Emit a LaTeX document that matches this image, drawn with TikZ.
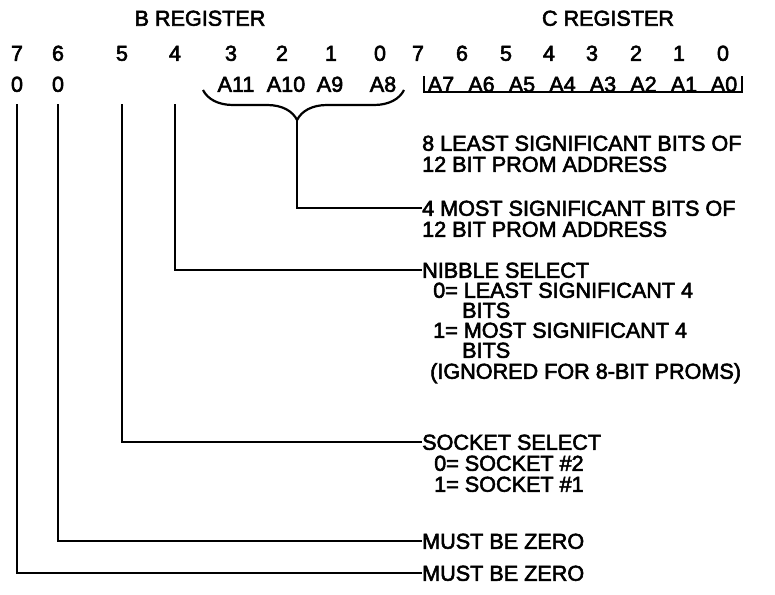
\documentclass[tikz,border=0pt]{standalone}
\usepackage{fontspec}
\setmainfont{Liberation Sans}[FakeBold=2.6]
\usetikzlibrary{decorations.pathreplacing}
\begin{document}
\begin{tikzpicture}[x=1pt,y=-1pt,
  txt/.style={inner sep=0pt, font=\fontsize{21.6}{24}\selectfont, text height=15.5pt, text depth=0pt},
  lbl/.style={txt, anchor=west},
  wire/.style={line width=1.8pt},
]
\useasboundingbox (0,0) rectangle (775,594);
% titles
\node[txt] (breg) at (200,18) {B REGISTER};
\node[txt] (creg) at (608,18) {C REGISTER};
% bit numbers
\foreach \n/\x/\t in {b7/17/7,b6/58/6,b5/122/5,b4/175/4,b3/231/3,b2/282/2,b1/331/1,b0/380/0,
  c7/418/7,c6/462/6,c5/506/5,c4/549/4,c3/592/3,c2/636/2,c1/679/1,c0/723/0}
  \node[txt] (\n) at (\x,53) {\t};
% values
\foreach \n/\x/\t in {v7/17/0,v6/58/0,a11/236/A11,a10/286/A10,a9/330/A9,a8/383/A8,
  a7/441/A7,a6/481.5/A6,a5/522/A5,a4/562.5/A4,a3/603/A3,a2/643.5/A2,a1/684/A1,a0/724/A0}
  \node[txt] (\n) at (\x,84) {\t};
% C register bracket
\coordinate (cl) at (424,76);
\coordinate (cr) at (742,76);
\draw[line width=1.3pt] (cl) -- (424,92) -- (742,92) -- (cr);
% brace
\coordinate (bl) at (203,90);
\coordinate (br) at (404,90);
\draw[line width=2.2pt, decorate, decoration={brace, mirror, amplitude=30pt, aspect=0.468}] (bl) -- (br);
\coordinate (bt) at (297,121);
% right-hand labels
\node[lbl] (lsb1) at (422,143) {8 LEAST SIGNIFICANT BITS OF};
\node[lbl] (lsb2) at (422,164) {12 BIT PROM ADDRESS};
\node[lbl] (msb1) at (422,208) {4 MOST SIGNIFICANT BITS OF};
\node[lbl] (msb2) at (422,229) {12 BIT PROM ADDRESS};
\node[lbl] (nib) at (422,270) {NIBBLE SELECT};
\node[lbl] (nib1) at (433,290) {0= LEAST SIGNIFICANT 4};
\node[lbl] (nib2) at (462,310) {BITS};
\node[lbl] (nib3) at (433,330) {1= MOST SIGNIFICANT 4};
\node[lbl] (nib4) at (462,350) {BITS};
\node[lbl] (nib5) at (430,371) {(IGNORED FOR 8-BIT PROMS)};
\node[lbl] (soc) at (422,442) {SOCKET SELECT};
\node[lbl] (soc1) at (434,463) {0= SOCKET \#2};
\node[lbl] (soc2) at (434,484) {1= SOCKET \#1};
\node[lbl] (mz6) at (422,541) {MUST BE ZERO};
\node[lbl] (mz7) at (422,573) {MUST BE ZERO};
% line start points
\coordinate (s7) at (17,104);
\coordinate (s6) at (58,104);
\coordinate (s5) at (122,104);
\coordinate (s4) at (175,104);
% connectors
\draw[wire] (bt) |- (msb1.west);
\draw[wire] (s4) |- (nib.west);
\draw[wire] (s5) |- (soc.west);
\draw[wire] (s6) |- (mz6.west);
\draw[wire] (s7) |- (mz7.west);
\end{tikzpicture}
\end{document}
